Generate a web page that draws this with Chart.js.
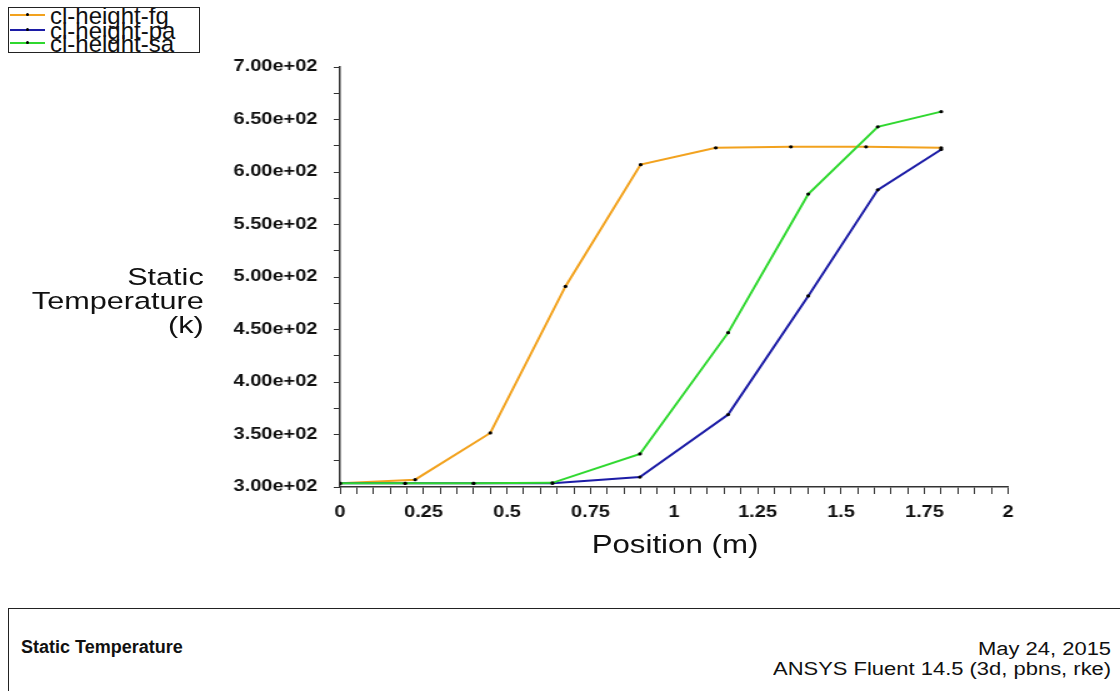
<!DOCTYPE html>
<html lang="en">
<head>
<meta charset="UTF-8">
<title>Static Temperature</title>
<style>
    body {
        margin: 0;
        background: #fff;
        overflow: hidden;
        font-family: "Liberation Sans", Arial, sans-serif;
        color: #111;
    }
    #page { position: relative; width: 1120px; height: 691px; overflow: hidden; }
    /* the original screenshot is stretched sideways, so the plot is drawn narrow and widened */
    #stretch {
        position: absolute; left: 0; top: 0;
        width: 896px; height: 600px;
        transform: scaleX(1.25); transform-origin: 0 0;
    }
    #chart { position: absolute; left: 0; top: 0; }
    .ytitle {
        position: absolute; left: 0; top: 265px; width: 163px;
        text-align: right; font-size: 24.5px; line-height: 24px;
    }
    .xtitle {
        position: absolute; left: 440px; top: 532px; width: 200px;
        text-align: center; font-size: 25px; line-height: 25px;
    }
    #legend {
        position: absolute; left: 8px; top: 7px;
        width: 192px; height: 46px;
        border: 1px solid #222; box-sizing: border-box;
        overflow: hidden; background: #fff;
    }
    .lg-line { position: absolute; left: 1px; width: 35px; height: 2px; }
    .lg-dot { position: absolute; left: 16px; top: -1px; width: 3px; height: 3px; border-radius: 50%; background: #000; }
    .lg-text { position: absolute; left: 41px; font-size: 24px; line-height: 14px; white-space: nowrap; }
    #footer {
        position: absolute; left: 8px; top: 608px;
        width: 1200px; height: 120px;
        border: 1px solid #222; box-sizing: border-box;
    }
    .foot { position: absolute; font-size: 18px; white-space: nowrap; }
    .foot-r { transform: scaleX(1.22); transform-origin: 100% 0; text-align: right; }
</style>
</head>
<body>
<div id="page">
    <div id="stretch">
        <canvas id="chart" width="896" height="600"></canvas>
        <div class="ytitle">Static<br>Temperature<br>(k)</div>
        <div class="xtitle">Position (m)</div>
    </div>
    <div id="legend"></div>
    <div id="footer"></div>
    <div class="foot" style="left:21px; top:638px; line-height:18px; font-weight:bold;">Static Temperature</div>
    <div class="foot foot-r" style="right:9px; top:639px; line-height:20px;">May 24, 2015</div>
    <div class="foot foot-r" style="right:9px; top:659px; line-height:20px;">ANSYS Fluent 14.5 (3d, pbns, rke)</div>
</div>

<script src="https://cdn.jsdelivr.net/npm/chart.js"></script>
<script>
    // positions along the line (m) and static temperature (K)
    const xFg = [0, 0.225, 0.45, 0.675, 0.9, 1.125, 1.35, 1.575, 1.8];
    const tFg = [303.5, 307, 351.5, 491, 607, 623, 624, 624, 623];
    const xPaSa = [0, 0.195, 0.4, 0.636, 0.898, 1.162, 1.402, 1.61, 1.8];
    const tPa = [303.5, 303.5, 303.5, 303.5, 309.5, 369, 482, 583, 621.5];
    const tSa = [303.5, 303.5, 303.5, 304, 331.5, 447, 579, 643, 657.5];

    const seriesNames = ['cl-height-fg', 'cl-height-pa', 'cl-height-sa'];
    const seriesColors = ['#f2a21e', '#1c1ca6', '#2fd82f'];

    const xMin = 0, xMax = 2, xStep = 0.05, xLabelStep = 0.25;
    const yMin = 300, yMax = 700, yStep = 25, yLabelStep = 50;

    const font = { family: '"Liberation Sans", Arial, sans-serif', size: 16, weight: 'bold' };

    function points(xs, ys) {
        return xs.map((x, i) => ({ x: x, y: ys[i] }));
    }

    function isMultiple(v, step) {
        return Math.abs(v / step - Math.round(v / step)) < 1e-6;
    }

    function sciLabel(v) {
        const parts = v.toExponential(2).split('e');
        const sign = parts[1][0];
        const exp = parts[1].slice(1).padStart(2, '0');
        return parts[0] + 'e' + sign + exp;
    }

    const seriesData = [points(xFg, tFg), points(xPaSa, tPa), points(xPaSa, tSa)];

    const datasets = seriesNames.map((name, i) => ({
        label: name,
        data: seriesData[i],
        borderColor: seriesColors[i],
        backgroundColor: seriesColors[i],
        borderWidth: 2,
        pointRadius: 1.6,
        pointBackgroundColor: '#000',
        pointBorderWidth: 0,
        pointHoverRadius: 0,
        tension: 0,
        order: 3 - i
    }));

    // legend box, top left
    const legend = document.getElementById('legend');
    const lineY = [7, 22, 35];
    seriesNames.forEach((name, i) => {
        const line = document.createElement('div');
        line.className = 'lg-line';
        line.style.top = (lineY[i] - 1) + 'px';
        line.style.background = seriesColors[i];
        const dot = document.createElement('div');
        dot.className = 'lg-dot';
        line.appendChild(dot);
        legend.appendChild(line);

        const text = document.createElement('div');
        text.className = 'lg-text';
        text.style.top = (lineY[i] - 6) + 'px';
        text.textContent = name;
        legend.appendChild(text);
    });

    new Chart(document.getElementById('chart'), {
        type: 'line',
        data: { datasets: datasets },
        options: {
            responsive: false,
            animation: false,
            layout: { padding: { left: 0, top: 67, right: 89.6, bottom: 0 } },
            plugins: {
                legend: { display: false },
                tooltip: { enabled: false }
            },
            scales: {
                x: {
                    type: 'linear',
                    min: xMin,
                    max: xMax,
                    afterFit: function(scale) { scale.height = 113; },
                    border: { display: true, color: '#333', width: 1.5 },
                    grid: { drawOnChartArea: false, drawTicks: true, tickLength: 7, color: '#333', lineWidth: 1 },
                    ticks: {
                        stepSize: xStep,
                        autoSkip: false,
                        maxRotation: 0,
                        padding: 9,
                        color: '#111',
                        font: font,
                        callback: function(v) {
                            return isMultiple(v, xLabelStep) ? String(Math.round(v * 100) / 100) : '';
                        }
                    }
                },
                y: {
                    type: 'linear',
                    min: yMin,
                    max: yMax,
                    afterFit: function(scale) { scale.width = 272; },
                    border: { display: true, color: '#333', width: 1.5 },
                    grid: { drawOnChartArea: false, drawTicks: true, tickLength: 5, color: '#333', lineWidth: 1 },
                    ticks: {
                        stepSize: yStep,
                        autoSkip: false,
                        padding: 13,
                        color: '#111',
                        font: font,
                        callback: function(v) {
                            return isMultiple(v, yLabelStep) ? sciLabel(v) : '';
                        }
                    }
                }
            }
        }
    });
</script>
</body>
</html>
